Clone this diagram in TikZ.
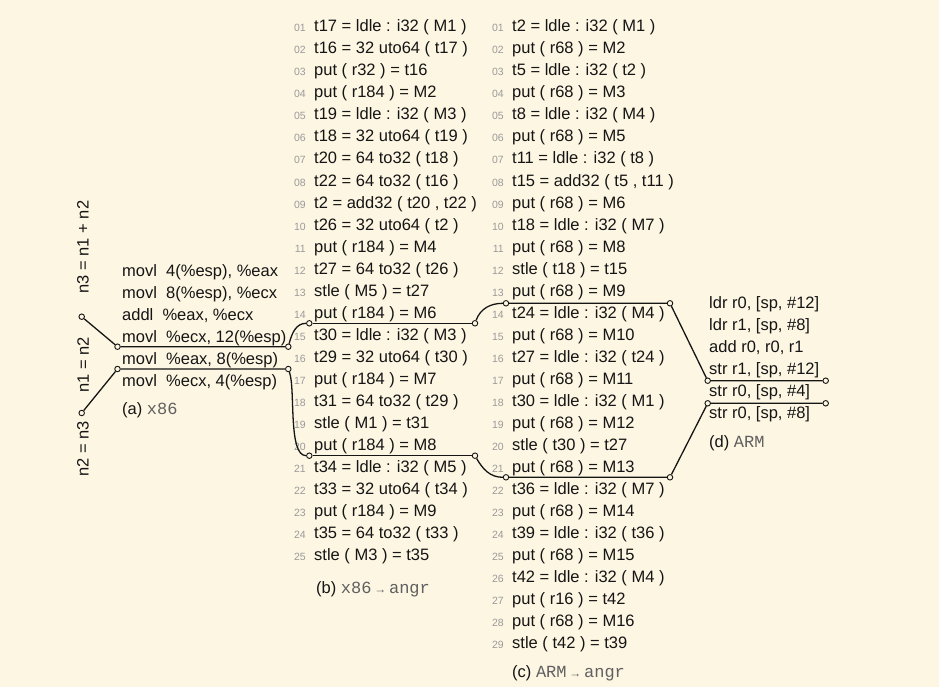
\documentclass[tikz,border=0pt]{standalone}
\usepackage{fontspec}
\setmainfont{Liberation Sans}
\setmonofont{Liberation Mono}
\usepackage{tikz}

\definecolor{paper}{HTML}{FDF6E3}
\definecolor{ink}{HTML}{151515}
\definecolor{numgray}{HTML}{9A9A9A}
\definecolor{capgray}{HTML}{606060}

\newcommand{\tool}[1]{{\color{capgray}\fontsize{17}{20}\selectfont\ttfamily #1}}
\newcommand{\tinyarrow}{{\color{capgray}\fontsize{12}{12}\selectfont →}}

\begin{document}
\begin{tikzpicture}[x=1pt,y=-1pt,
  code/.style={anchor=base west,inner sep=0pt,text=ink,font=\fontsize{16.5}{20}\selectfont},
  lineno/.style={anchor=base east,inner sep=0pt,text=numgray,font=\fontsize{10.5}{12}\selectfont},
  vlabel/.style={rotate=90,inner sep=0pt,text=ink,font=\fontsize{16.5}{20}\selectfont},
  joint/.style={circle,draw=ink,fill=paper,inner sep=0pt,minimum size=5.5pt,line width=0.9pt},
  wire/.style={draw=ink,line width=1.3pt}]
\fill[paper] (0,0) rectangle (939,687);
\useasboundingbox (0,0) rectangle (939,687);

% equalities on the left
\node[vlabel] (eq3) at (83,247) {n3 = n1 + n2};
\node[vlabel] (eq1) at (83,365) {n1 = n2};
\node[vlabel] (eq2) at (83,449) {n2 = n3};

% (a) x86
\foreach \t [count=\i] in {{movl\ \ 4(\%esp), \%eax},{movl\ \ 8(\%esp), \%ecx},{addl\ \ \%eax, \%ecx},
  {movl\ \ \%ecx, 12(\%esp)},{movl\ \ \%eax, 8(\%esp)},{movl\ \ \%ecx, 4(\%esp)}}
  \node[code] (xi\i) at (122,{276+22*(\i-1)}) {\t};
\node[code] (capa) at (122,414) {(a) \tool{x86}};

% (b) x86 -> angr
\foreach \t [count=\i] in {t17 = ldle : i32 ( M1 ),t16 = 32 uto64 ( t17 ),put ( r32 ) = t16,
  put ( r184 ) = M2,t19 = ldle : i32 ( M3 ),t18 = 32 uto64 ( t19 ),t20 = 64 to32 ( t18 ),
  t22 = 64 to32 ( t16 ),{t2 = add32 ( t20 , t22 )},t26 = 32 uto64 ( t2 ),put ( r184 ) = M4,
  t27 = 64 to32 ( t26 ),stle ( M5 ) = t27,put ( r184 ) = M6,t30 = ldle : i32 ( M3 ),
  t29 = 32 uto64 ( t30 ),put ( r184 ) = M7,t31 = 64 to32 ( t29 ),stle ( M1 ) = t31,
  put ( r184 ) = M8,t34 = ldle : i32 ( M5 ),t33 = 32 uto64 ( t34 ),put ( r184 ) = M9,
  t35 = 64 to32 ( t33 ),stle ( M3 ) = t35}
{
  \node[lineno] (nb\i) at (306,{32+22*(\i-1)}) {\ifnum\i<10 0\fi\i};
  \node[code] (vb\i) at (314,{32+22*(\i-1)}) {\t};
}
\node[code] (capb) at (316,593) {(b) \tool{x86}\,\tinyarrow\,\tool{angr}};

% (c) ARM -> angr
\foreach \t [count=\i] in {t2 = ldle : i32 ( M1 ),put ( r68 ) = M2,t5 = ldle : i32 ( t2 ),
  put ( r68 ) = M3,t8 = ldle : i32 ( M4 ),put ( r68 ) = M5,t11 = ldle : i32 ( t8 ),
  {t15 = add32 ( t5 , t11 )},put ( r68 ) = M6,t18 = ldle : i32 ( M7 ),put ( r68 ) = M8,
  stle ( t18 ) = t15,put ( r68 ) = M9,t24 = ldle : i32 ( M4 ),put ( r68 ) = M10,
  t27 = ldle : i32 ( t24 ),put ( r68 ) = M11,t30 = ldle : i32 ( M1 ),put ( r68 ) = M12,
  stle ( t30 ) = t27,put ( r68 ) = M13,t36 = ldle : i32 ( M7 ),put ( r68 ) = M14,
  t39 = ldle : i32 ( t36 ),put ( r68 ) = M15,t42 = ldle : i32 ( M4 ),put ( r16 ) = t42,
  put ( r68 ) = M16,stle ( t42 ) = t39}
{
  \node[lineno] (nc\i) at (504,{32+22*(\i-1)}) {\ifnum\i<10 0\fi\i};
  \node[code] (vc\i) at (512,{32+22*(\i-1)}) {\t};
}
\node[code] (capc) at (512,677) {(c) \tool{ARM}\,\tinyarrow\,\tool{angr}};

% (d) ARM
\foreach \t [count=\i] in {{ldr r0, [sp, \#12]},{ldr r1, [sp, \#8]},{add r0, r0, r1},
  {str r1, [sp, \#12]},{str r0, [sp, \#4]},{str r0, [sp, \#8]}}
  \node[code] (arm\i) at (709,{308+22*(\i-1)}) {\t};
\node[code] (capd) at (709,447) {(d) \tool{ARM}};

% joints
\node[joint] (pl1) at (81.7,316.7) {};
\node[joint] (pl2) at (81.7,413) {};
\node[joint] (pa1) at (117.5,346.7) {};
\node[joint] (pa2) at (288.3,346.7) {};
\node[joint] (pa3) at (117.5,369) {};
\node[joint] (pa4) at (288.3,369) {};
\node[joint] (pb1) at (309.3,323.3) {};
\node[joint] (pb2) at (475,323.3) {};
\node[joint] (pb3) at (309.3,455.7) {};
\node[joint] (pb4) at (475,455.7) {};
\node[joint] (pc1) at (506,303.3) {};
\node[joint] (pc2) at (670,303.3) {};
\node[joint] (pc3) at (506,477.3) {};
\node[joint] (pc4) at (670,477.3) {};
\node[joint] (pd1) at (707.7,380.7) {};
\node[joint] (pd2) at (825.7,380.7) {};
\node[joint] (pd3) at (707.7,403.3) {};
\node[joint] (pd4) at (825.7,403.3) {};

% the two chains
\draw[wire] (pl1) -- (pa1) -- (pa2);
\draw[wire] (pa2) to[out=75,in=180] (pb1);
\draw[wire] (pb1) -- (pb2);
\draw[wire] (pb2) to[out=70,in=180] (pc1);
\draw[wire] (pc1) -- (pc2) -- (pd1) -- (pd2);

\draw[wire] (pl2) -- (pa3) -- (pa4);
\draw[wire] (pa4) to[out=-70,in=180,looseness=0.55] (pb3);
\draw[wire] (pb3) -- (pb4);
\draw[wire] (pb4) to[out=-60,in=180] (pc3);
\draw[wire] (pc3) -- (pc4) -- (pd3) -- (pd4);
\end{tikzpicture}
\end{document}
